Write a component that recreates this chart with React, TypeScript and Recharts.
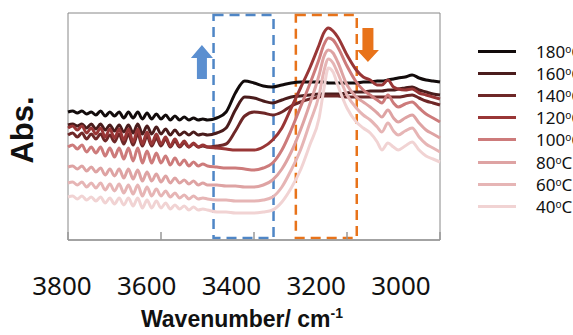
import React from "react";
import {
  LineChart,
  Line,
  XAxis,
  YAxis,
  ReferenceArea,
  ReferenceDot,
} from "recharts";

// wavenumbers (cm-1), denser where the water-vapour noise is
const WAVENUMBERS = [
  3800, 3790, 3780, 3770, 3760, 3750, 3740, 3730, 3720, 3710, 3700, 3690, 3680, 3670, 3660, 3650,
  3640, 3630, 3620, 3610, 3600, 3590, 3580, 3570, 3560, 3550, 3540, 3530, 3520, 3510, 3500,
  3480, 3460, 3440, 3420, 3400, 3380, 3360, 3340, 3320, 3300, 3280, 3260, 3250, 3240, 3230, 3220,
  3200, 3180, 3165, 3150, 3135, 3125, 3112, 3100, 3090, 3075, 3060, 3045, 3030, 3015, 3000,
];

const T180 = [
  128, 129, 127, 129, 126, 128, 125, 129, 124, 128, 124, 128, 122, 128, 122, 128,
  121, 127, 121, 126, 121, 125, 120, 124, 120, 123, 120, 122, 120, 121, 120,
  122, 128, 147, 159, 157, 154, 153, 155, 157, 158, 158, 158, 158, 157, 157, 157,
  157, 157, 158, 158, 159, 159, 160, 161, 162, 163, 165, 162, 160, 159, 158,
];
const T160 = [
  115, 116, 114, 116, 112, 116, 111, 116, 110, 115, 109, 115, 108, 115, 107, 116,
  106, 114, 106, 113, 106, 111, 105, 110, 105, 108, 105, 108, 105, 106, 105,
  107, 112, 130, 143, 142, 139, 137, 140, 143, 144, 145, 146, 146, 146, 146, 146,
  147, 148, 148, 149, 149, 149, 150, 150, 151, 152, 153, 150, 148, 146, 145,
];
const T140 = [
  105, 107, 103, 107, 101, 106, 101, 106, 99, 105, 98, 106, 96, 106, 95, 106,
  94, 104, 94, 102, 94, 101, 93, 99, 93, 97, 93, 96, 93, 94, 93,
  94, 96, 109, 124, 128, 127, 125, 128, 134, 138, 141, 143, 144, 144, 144, 144,
  143, 143, 143, 143, 143, 143, 143, 143, 143, 144, 145, 142, 139, 137, 135,
];
const T120 = [
  112, 114, 110, 114, 107, 112, 106, 112, 103, 111, 102, 111, 100, 111, 98, 111,
  96, 108, 96, 106, 96, 103, 94, 101, 94, 99, 93, 97, 93, 95, 93,
  92, 91, 90, 90, 90, 93, 100, 112, 132, 152, 172, 195, 207, 212, 209, 203,
  185, 170, 163, 160, 155, 155, 160, 153, 151, 150, 151, 147, 145, 143, 141,
];
const T100 = [
  93, 95, 91, 95, 88, 93, 87, 93, 84, 92, 83, 92, 81, 92, 79, 92,
  77, 89, 77, 87, 77, 84, 75, 82, 75, 80, 74, 78, 74, 76, 74,
  73, 72, 72, 71, 70, 72, 77, 90, 110, 133, 156, 181, 195, 202, 200, 193,
  174, 158, 150, 145, 140, 137, 145, 137, 133, 136, 138, 132, 126, 122, 118,
];
const T80 = [
  73, 74, 71, 74, 69, 73, 68, 72, 65, 71, 64, 71, 62, 71, 61, 70,
  59, 68, 59, 66, 58, 64, 57, 62, 57, 60, 56, 59, 55, 57, 55,
  55, 54, 54, 53, 53, 55, 60, 71, 88, 110, 136, 165, 183, 190, 187, 178,
  155, 143, 138, 133, 127, 123, 130, 122, 118, 122, 125, 117, 110, 106, 102,
];
const T60 = [
  57, 58, 55, 58, 53, 57, 52, 57, 50, 56, 49, 56, 47, 55, 46, 55,
  44, 53, 44, 51, 44, 49, 43, 47, 42, 45, 41, 44, 41, 42, 41,
  40, 40, 39, 39, 39, 40, 43, 53, 70, 90, 117, 145, 168, 181, 177, 167,
  145, 132, 125, 120, 113, 108, 117, 109, 105, 109, 112, 103, 96, 92, 88,
];
const T40 = [
  43, 44, 41, 44, 40, 43, 39, 43, 37, 42, 36, 42, 35, 42, 34, 42,
  32, 40, 32, 39, 32, 37, 31, 35, 31, 34, 30, 33, 30, 31, 30,
  28, 28, 27, 27, 27, 28, 30, 38, 52, 70, 95, 122, 150, 172, 168, 155,
  132, 118, 112, 107, 98, 90, 97, 93, 90, 94, 98, 90, 84, 81, 78,
];

const TEMPS = ["180", "160", "140", "120", "100", "80", "60", "40"];
const COLORS = ["#120b0b", "#4a1c1c", "#6e2727", "#993636", "#cd7b7b", "#dea3a3", "#e6b5b5", "#f1d3d3"];
const VALUES = [T180, T160, T140, T120, T100, T80, T60, T40];
const TICKS = [3800, 3600, 3400, 3200, 3000];

// highlighted regions and arrows
const BLUE_BOX = [3487, 3358];
const ORANGE_BOX = [3310, 3179];
const BLUE_ARROW = { x: 3512, y: 178 };
const ORANGE_ARROW = { x: 3155, y: 195 };

const data = WAVENUMBERS.map((wn, i) => {
  const row: Record<string, number> = { wn };
  TEMPS.forEach((t, s) => (row["t" + t] = VALUES[s][i]));
  return row;
});

const W = 573;
const H = 335;
const PLOT_LEFT = 68;
const PLOT_WIDTH = 372;
const LABEL_FIRST = 62;
const LABEL_SPAN = 339;

function WnTick({ x, y, payload }: any) {
  const lx = LABEL_FIRST + ((x - PLOT_LEFT) * LABEL_SPAN) / PLOT_WIDTH;
  return (
    <g>
      <line x1={x} y1={y} x2={x} y2={y - 8} stroke="#999" strokeWidth={1.5} />
      <text x={lx} y={y + 55} textAnchor="middle" fontSize={26} fontFamily="Noto Sans" fill="#111">
        {payload.value}
      </text>
    </g>
  );
}

function UpArrow({ cx, cy }: any) {
  const pts = [
    [cx, cy - 17],
    [cx + 11, cy - 4],
    [cx + 5, cy - 4],
    [cx + 5, cy + 17],
    [cx - 5, cy + 17],
    [cx - 5, cy - 4],
    [cx - 11, cy - 4],
  ];
  return <polygon points={pts.map((p) => p.join(",")).join(" ")} fill="#5b8fd0" />;
}

function DownArrow({ cx, cy }: any) {
  const pts = [
    [cx, cy + 17],
    [cx + 11, cy + 5],
    [cx + 5.5, cy + 5],
    [cx + 5.5, cy - 17],
    [cx - 5.5, cy - 17],
    [cx - 5.5, cy + 5],
    [cx - 11, cy + 5],
  ];
  return <polygon points={pts.map((p) => p.join(",")).join(" ")} fill="#e8731a" />;
}

export default function App() {
  return (
    <div
      style={{
        position: "absolute",
        left: 0,
        top: 0,
        width: W,
        height: H,
        overflow: "hidden",
        background: "#fff",
        fontFamily: "Noto Sans",
      }}
    >
      <LineChart width={W} height={H} data={data} margin={{ top: 13, right: W - PLOT_LEFT - PLOT_WIDTH, bottom: 0, left: PLOT_LEFT }}>
        <XAxis
          dataKey="wn"
          type="number"
          domain={[3000, 3800]}
          reversed
          ticks={TICKS}
          interval={0}
          height={95}
          tickSize={0}
          tickMargin={0}
          tick={<WnTick />}
          stroke="#999"
          strokeWidth={1.5}
        />
        <YAxis hide domain={[0, 227]} />
        <ReferenceArea x1={3800} x2={3000} y1={0} y2={227} stroke="#888" strokeWidth={1} fill="none" />
        {TEMPS.map((t, s) => (
          <Line
            key={t}
            dataKey={"t" + t}
            type="monotone"
            stroke={COLORS[s]}
            strokeWidth={3}
            dot={false}
            activeDot={false}
            isAnimationActive={false}
          />
        ))}
        <ReferenceArea
          x1={BLUE_BOX[0]}
          x2={BLUE_BOX[1]}
          y1={2}
          y2={225}
          stroke="#4f86c6"
          strokeWidth={2.5}
          strokeDasharray="10 6"
          fill="none"
        />
        <ReferenceArea
          x1={ORANGE_BOX[0]}
          x2={ORANGE_BOX[1]}
          y1={2}
          y2={225}
          stroke="#e8731a"
          strokeWidth={2.5}
          strokeDasharray="10 6"
          fill="none"
        />
        <ReferenceDot x={BLUE_ARROW.x} y={BLUE_ARROW.y} r={10} shape={<UpArrow />} />
        <ReferenceDot x={ORANGE_ARROW.x} y={ORANGE_ARROW.y} r={10} shape={<DownArrow />} />
      </LineChart>

      <div
        style={{
          position: "absolute",
          left: 22,
          top: 130,
          transform: "translate(-50%, -50%) rotate(-90deg)",
          fontFamily: "Liberation Sans",
          fontWeight: 700,
          fontSize: 31,
          lineHeight: 1,
          whiteSpace: "nowrap",
          color: "#111",
        }}
      >
        Abs.
      </div>

      <div
        style={{
          position: "absolute",
          left: 0,
          width: 484,
          top: 308,
          textAlign: "center",
          fontFamily: "Liberation Sans",
          fontWeight: 700,
          fontSize: 23,
          lineHeight: "23px",
          whiteSpace: "nowrap",
          color: "#111",
        }}
      >
        Wavenumber/ cm<span style={{ position: "relative", top: -9, fontSize: 14 }}>-1</span>
      </div>

      {TEMPS.map((t, s) => (
        <div
          key={t}
          style={{
            position: "absolute",
            left: 478,
            top: 51 + s * 22.2 - 11,
            height: 22,
            display: "flex",
            alignItems: "center",
            whiteSpace: "nowrap",
            fontSize: 17,
            color: "#111",
          }}
        >
          <span style={{ display: "inline-block", width: 38, height: 3, background: COLORS[s] }} />
          <span style={{ marginLeft: 20 }}>
            {t}
            <span style={{ position: "relative", top: -5, fontSize: 10 }}>o</span>C
          </span>
        </div>
      ))}
    </div>
  );
}
